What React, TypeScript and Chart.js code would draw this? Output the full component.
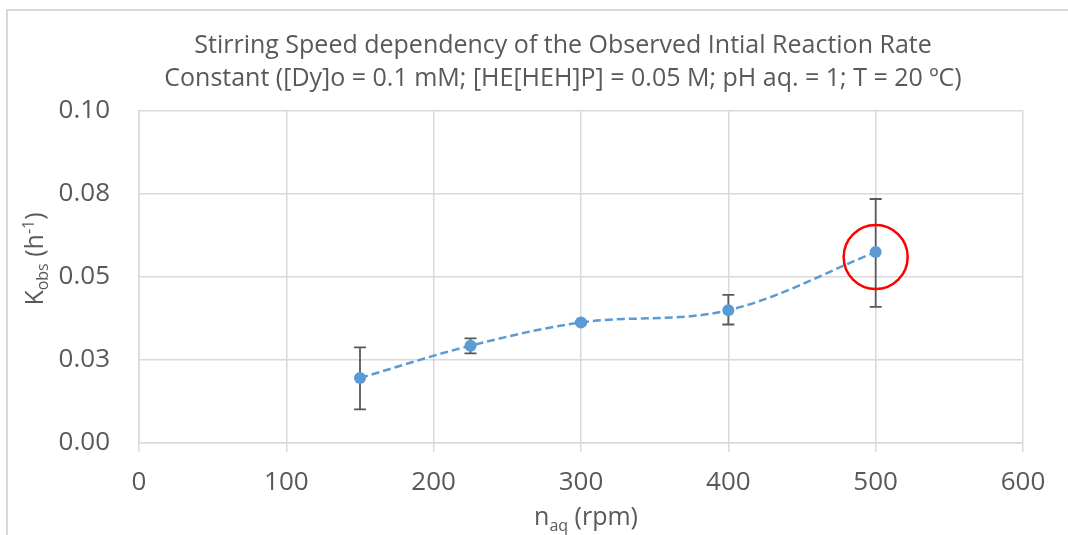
import React, { useEffect, useRef } from "react";
import { Chart, registerables } from "chart.js";

Chart.register(...registerables);

const titleLines = [
  "Stirring Speed dependency of the Observed Intial Reaction Rate",
  "Constant ([Dy]o = 0.1 mM; [HE[HEH]P] = 0.05 M; pH aq. = 1; T = 20 ºC)",
];
const stirringSpeeds = [150, 225, 300, 400, 500];
const kObs = [0.0196, 0.0293, 0.0363, 0.04, 0.0575];
const errUpper = [0.0288, 0.0315, 0.0366, 0.0446, 0.0735];
const errLower = [0.0101, 0.027, 0.036, 0.0357, 0.041];
const highlightX = [500];
const highlightY = [0.056];
const yTickValues = [0, 0.025, 0.05, 0.075, 0.1];
const yTickLabels = ["0.00", "0.03", "0.05", "0.08", "0.10"];

const FONT = "'Open Sans', 'DejaVu Sans', sans-serif";
const TEXT = "#595959";
const GRID = "#d9d9d9";

type Part = { t: string; size: number; dy: number };

function drawRich(ctx: CanvasRenderingContext2D, parts: Part[], cx: number, baseY: number) {
  let total = 0;
  const widths = parts.map((p) => {
    ctx.font = `${p.size}px ${FONT}`;
    const w = ctx.measureText(p.t).width;
    total += w;
    return w;
  });
  let x = cx - total / 2;
  parts.forEach((p, i) => {
    ctx.font = `${p.size}px ${FONT}`;
    ctx.fillText(p.t, x, baseY + p.dy);
    x += widths[i];
  });
}

const decorPlugin = {
  id: "decor",
  beforeDraw(chart: any) {
    const ctx = chart.ctx as CanvasRenderingContext2D;
    ctx.save();
    ctx.strokeStyle = GRID;
    ctx.lineWidth = 2;
    ctx.strokeRect(7, 10, 2000, 2000);
    ctx.fillStyle = TEXT;
    ctx.textBaseline = "alphabetic";
    // title
    ctx.font = `25px ${FONT}`;
    ctx.textAlign = "center";
    ctx.fillText(titleLines[0], 563, 53);
    ctx.fillText(titleLines[1], 563, 86);
    ctx.textAlign = "left";
    // x axis title
    const xs = chart.scales.x;
    drawRich(
      ctx,
      [
        { t: "n", size: 25, dy: 0 },
        { t: "aq", size: 16, dy: 6 },
        { t: " (rpm)", size: 25, dy: 0 },
      ],
      (xs.left + xs.right) / 2 + 5,
      525
    );
    // y axis title
    ctx.translate(43, 259);
    ctx.rotate(-Math.PI / 2);
    drawRich(
      ctx,
      [
        { t: "K", size: 25, dy: 0 },
        { t: "obs", size: 16, dy: 5 },
        { t: " (h", size: 25, dy: 0 },
        { t: "-1", size: 16, dy: -9 },
        { t: ")", size: 25, dy: 0 },
      ],
      0,
      0
    );
    ctx.restore();
  },
  beforeDatasetsDraw(chart: any) {
    const ctx = chart.ctx as CanvasRenderingContext2D;
    const xs = chart.scales.x;
    const ys = chart.scales.y;
    ctx.save();
    ctx.strokeStyle = "#595959";
    ctx.lineWidth = 1.8;
    stirringSpeeds.forEach((s, i) => {
      const x = xs.getPixelForValue(s);
      const yt = ys.getPixelForValue(errUpper[i]);
      const yb = ys.getPixelForValue(errLower[i]);
      ctx.beginPath();
      ctx.moveTo(x, yt);
      ctx.lineTo(x, yb);
      ctx.moveTo(x - 6, yt);
      ctx.lineTo(x + 6, yt);
      ctx.moveTo(x - 6, yb);
      ctx.lineTo(x + 6, yb);
      ctx.stroke();
    });
    ctx.restore();
  },
};

export default function App() {
  const ref = useRef<HTMLCanvasElement>(null);
  useEffect(() => {
    document.body.style.margin = "0";
    const chart = new Chart(ref.current!, {
      type: "scatter",
      data: {
        datasets: [
          {
            data: stirringSpeeds.map((x, i) => ({ x, y: kObs[i] })),
            showLine: true,
            borderColor: "#5B9BD5",
            backgroundColor: "#5B9BD5",
            borderWidth: 2.5,
            borderDash: [8, 4],
            tension: 0.35,
            pointRadius: 6,
            pointHoverRadius: 6,
            pointBorderWidth: 0,
          },
          {
            data: highlightX.map((x, i) => ({ x, y: highlightY[i] })),
            showLine: false,
            pointRadius: 32,
            pointHoverRadius: 32,
            borderColor: "#FF0000",
            borderWidth: 2.5,
            backgroundColor: "rgba(0,0,0,0)",
          },
        ],
      },
      options: {
        responsive: false,
        animation: false,
        layout: { padding: { top: 111, right: 45, bottom: 0, left: 0 } },
        plugins: { legend: { display: false }, tooltip: { enabled: false }, title: { display: false } },
        scales: {
          x: {
            type: "linear",
            min: 0,
            max: 600,
            afterFit: (s: any) => {
              s.height = 92;
            },
            ticks: { stepSize: 100, color: TEXT, font: { family: FONT, size: 26 }, padding: 15, maxRotation: 0 },
            grid: { color: GRID, lineWidth: 1.5, tickLength: 9, drawTicks: true },
            border: { color: GRID, width: 1.5 },
          },
          y: {
            type: "linear",
            min: 0,
            max: 0.1,
            afterFit: (s: any) => {
              s.width = 139;
            },
            afterBuildTicks: (s: any) => {
              s.ticks = yTickValues.map((v) => ({ value: v }));
            },
            ticks: {
              color: TEXT,
              font: { family: FONT, size: 26 },
              padding: 29,
              callback: (v: any) => {
                const i = yTickValues.findIndex((t) => Math.abs(t - v) < 1e-9);
                return i >= 0 ? yTickLabels[i] : "";
              },
            },
            grid: { color: GRID, lineWidth: 1.5, drawTicks: false },
            border: { color: GRID, width: 1.5 },
          },
        },
      },
      plugins: [decorPlugin],
    });
    return () => chart.destroy();
  }, []);
  return <canvas ref={ref} width={1068} height={535} style={{ display: "block" }} />;
}
